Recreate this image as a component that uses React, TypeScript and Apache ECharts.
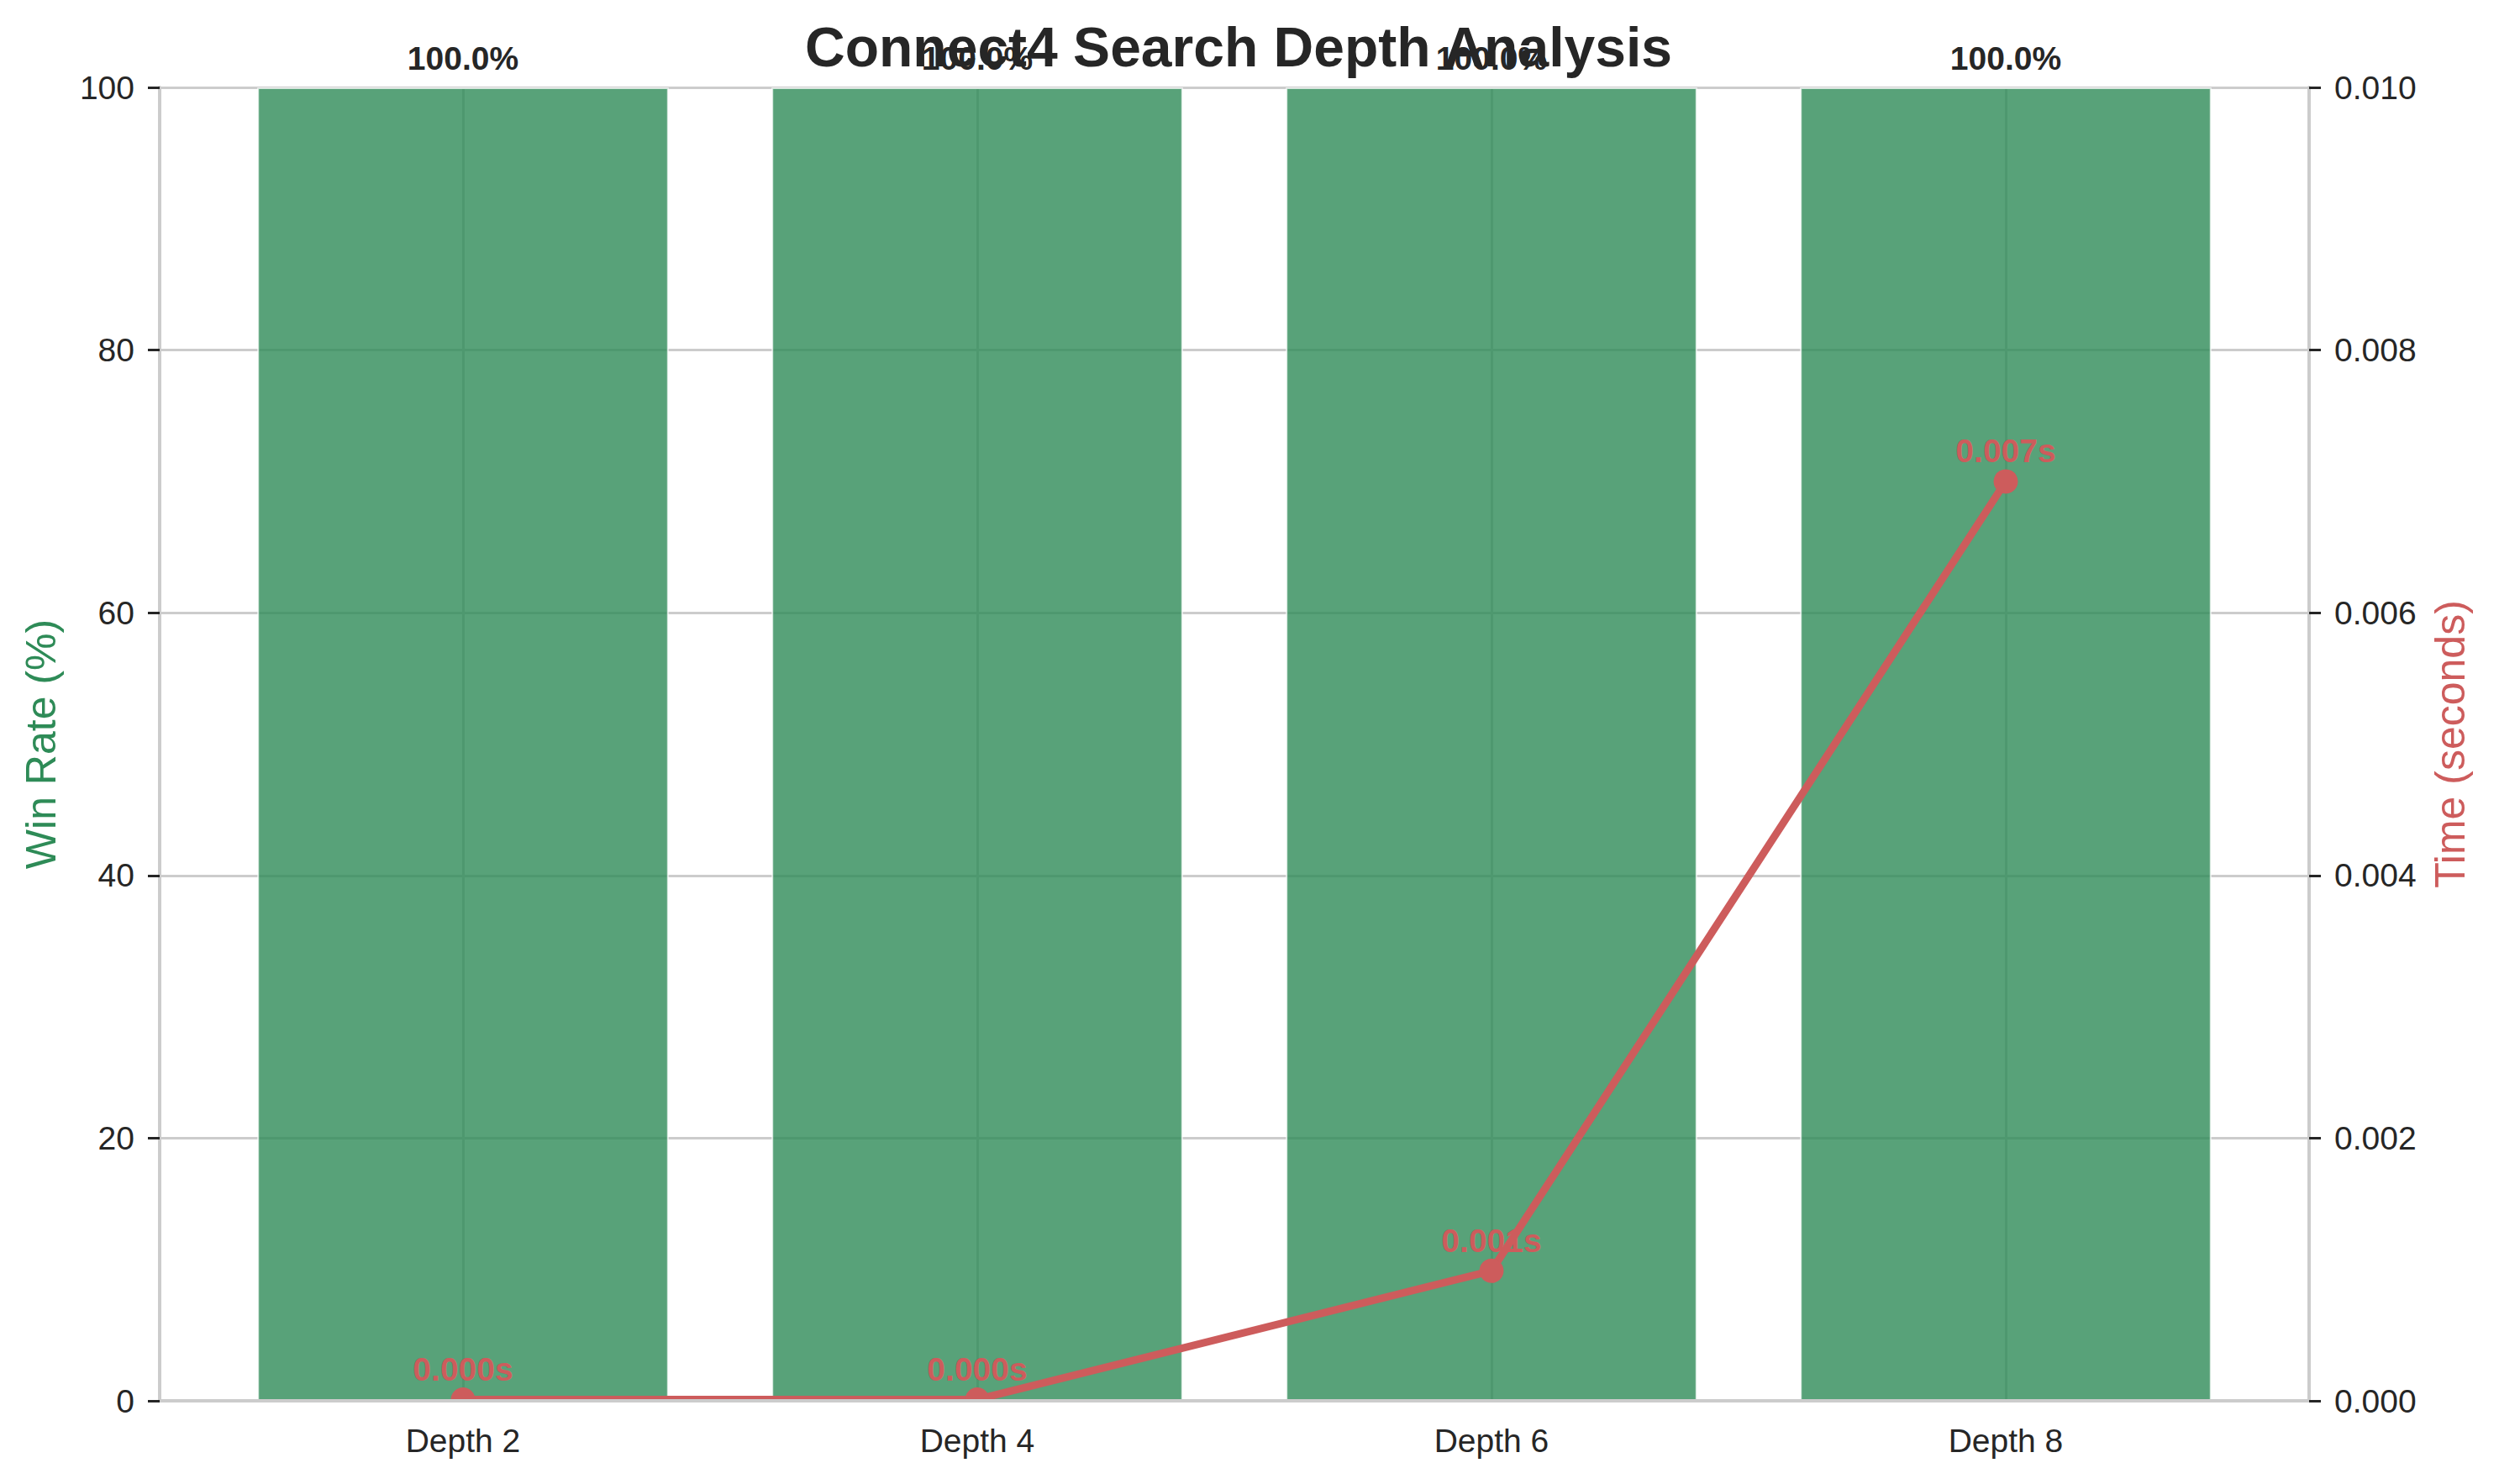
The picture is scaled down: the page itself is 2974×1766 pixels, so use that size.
import React, { useEffect, useRef } from "react";
import * as echarts from "echarts";

const categories = ["Depth 2", "Depth 4", "Depth 6", "Depth 8"];
const winRates = [100, 100, 100, 100];
const times = [0.00001, 0.00001, 0.00099, 0.007];
const winAxisRange = [0, 100, 20];
const timeAxisRange = [0, 0.01, 0.002];
const titleText = "Connect4 Search Depth Analysis";
const winName = "Win Rate (%)";
const timeName = "Time (seconds)";

const FONT = "'Liberation Sans', Arial, Helvetica, sans-serif";
const GREEN = "#2E8B57";
const RED = "#CD5C5C";
const DARK = "#262626";
const GRIDC = "#cccccc";

export default function App() {
  const ref = useRef<HTMLDivElement>(null);
  useEffect(() => {
    if (!ref.current) return;
    const chart = echarts.init(ref.current, undefined, { renderer: "svg" });
    const frame = { left: 190, right: 226, top: 104, bottom: 99 };
    const inner = { left: 245, right: 281, top: 104, bottom: 99 };
    const option: any = {
      animation: false,
      backgroundColor: "#ffffff",
      textStyle: { fontFamily: FONT },
      title: {
        text: titleText,
        left: 1469,
        textAlign: "center",
        top: 18,
        textStyle: { fontFamily: FONT, fontSize: 66, fontWeight: "bold", color: DARK },
      },
      grid: [
        { ...frame, containLabel: false },
        { ...inner, containLabel: false },
      ],
      xAxis: [
        {
          gridIndex: 0, type: "value", min: 0, max: 1, position: "bottom", z: 60,
          axisLine: { show: true, lineStyle: { color: GRIDC, width: 4 } },
          axisTick: { show: false }, axisLabel: { show: false }, splitLine: { show: false },
        },
        {
          gridIndex: 0, type: "value", min: 0, max: 1, position: "top", z: 60,
          axisLine: { show: true, lineStyle: { color: GRIDC, width: 4 } },
          axisTick: { show: false }, axisLabel: { show: false }, splitLine: { show: false },
        },
        {
          gridIndex: 1, type: "category", data: categories, position: "bottom", z: 60,
          axisLine: { show: false }, axisTick: { show: false }, splitLine: { show: false },
          axisLabel: { fontFamily: FONT, fontSize: 39, color: DARK, margin: 28 },
        },
      ],
      yAxis: [
        {
          gridIndex: 0, type: "value", min: winAxisRange[0], max: winAxisRange[1], interval: winAxisRange[2],
          position: "left", z: 0,
          axisLine: { show: false }, axisTick: { show: false }, axisLabel: { show: false },
          splitLine: { show: true, lineStyle: { color: GRIDC, width: 3 } },
        },
        {
          gridIndex: 0, type: "value", min: winAxisRange[0], max: winAxisRange[1], interval: winAxisRange[2],
          position: "left", z: 60,
          name: winName, nameLocation: "middle", nameRotate: 90, nameGap: 116,
          nameTextStyle: { fontFamily: FONT, fontSize: 50, color: GREEN },
          axisLine: { show: true, lineStyle: { color: GRIDC, width: 4 } },
          axisTick: { show: true, length: 14, lineStyle: { color: DARK, width: 3 } },
          axisLabel: { fontFamily: FONT, fontSize: 39, color: DARK, margin: 30 },
          splitLine: { show: false },
        },
        {
          gridIndex: 0, type: "value", min: timeAxisRange[0], max: timeAxisRange[1], interval: timeAxisRange[2],
          position: "right", z: 60,
          name: timeName, nameLocation: "middle", nameRotate: 90, nameGap: 143,
          nameTextStyle: { fontFamily: FONT, fontSize: 50, color: RED },
          axisLine: { show: true, lineStyle: { color: GRIDC, width: 4 } },
          axisTick: { show: true, length: 14, lineStyle: { color: DARK, width: 3 } },
          axisLabel: {
            fontFamily: FONT, fontSize: 39, color: DARK, margin: 30,
            formatter: (v: number) => v.toFixed(3),
          },
          splitLine: { show: false },
        },
        {
          gridIndex: 1, type: "value", min: winAxisRange[0], max: winAxisRange[1], show: false,
        },
        {
          gridIndex: 1, type: "value", min: timeAxisRange[0], max: timeAxisRange[1], show: false,
        },
      ],
      graphic: [
        {
          type: "rect", z: 50, silent: true,
          shape: { x: 150, y: 1669, width: 2660, height: 28 },
          style: { fill: "#ffffff" },
        },
      ],
      series: [
        {
          type: "line", xAxisIndex: 2, yAxisIndex: 3, data: [], z: 1, silent: true,
          markLine: {
            silent: true, symbol: ["none", "none"], z: 1,
            label: { show: false },
            lineStyle: { color: GRIDC, width: 3, type: "solid" },
            data: categories.map((c) => ({ xAxis: c })),
          },
        },
        {
          type: "bar", xAxisIndex: 2, yAxisIndex: 3, data: winRates, barWidth: "80%", z: 2,
          itemStyle: { color: "rgba(46,139,87,0.8)", borderColor: "rgba(255,255,255,0.7)", borderWidth: 2 },
          label: {
            show: true, position: "top", distance: 15,
            fontFamily: FONT, fontSize: 39, fontWeight: "bold", color: DARK,
            formatter: (p: any) => `${Number(p.value).toFixed(1)}%`,
          },
        },
        {
          type: "line", xAxisIndex: 2, yAxisIndex: 4, data: times, z: 3,
          symbol: "circle", symbolSize: 29,
          lineStyle: { color: RED, width: 9 },
          itemStyle: { color: RED },
          label: {
            show: true, position: "top", distance: 2,
            fontFamily: FONT, fontSize: 39, fontWeight: "bold", color: RED,
            formatter: (p: any) => `${Number(p.value).toFixed(3)}s`,
          },
        },
      ],
    };
    chart.setOption(option);
    return () => chart.dispose();
  }, []);
  return (
    <div
      ref={ref}
      style={{ position: "absolute", left: 0, top: 0, width: 2974, height: 1766 }}
    />
  );
}
